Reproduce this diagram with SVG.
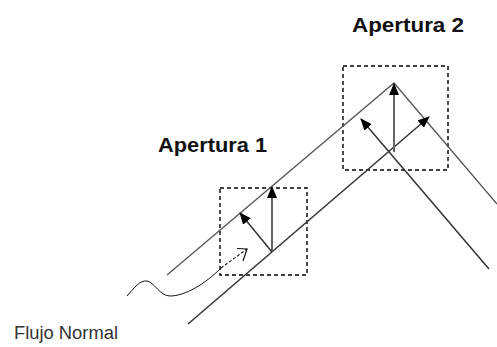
<svg xmlns="http://www.w3.org/2000/svg" width="497" height="347" viewBox="0 0 497 347">
<style>
.box{fill:none;stroke:#000;stroke-width:1.4;stroke-dasharray:4,3}
.ln{fill:none;stroke:#333;stroke-width:1.5}
.lnu{fill:none;stroke:#555;stroke-width:1.3}
.vert{fill:none;stroke:#666;stroke-width:2}
.lbl{font-family:"Liberation Sans",Arial,sans-serif;font-weight:bold;font-size:21px;fill:#111}
.flow{font-family:"Liberation Sans",Arial,sans-serif;font-size:18px;fill:#333}
</style>
<defs>
<marker id="ah" markerUnits="userSpaceOnUse" markerWidth="12" markerHeight="10" refX="11" refY="5" orient="auto">
<path d="M0,0 L12,5 L0,10 Z" fill="#000"/>
</marker>
</defs>
<rect width="497" height="347" fill="#fff"/>
<g id="apertura1">
<rect class="box" x="220" y="188" width="87" height="87"/>
<text class="lbl" x="158" y="152" textLength="109" lengthAdjust="spacingAndGlyphs">Apertura 1</text>
</g>
<g id="apertura2">
<rect class="box" x="343" y="66" width="105" height="104"/>
<text class="lbl" x="352" y="32" textLength="112" lengthAdjust="spacingAndGlyphs">Apertura 2</text>
</g>
<g id="flujo">
<text class="flow" x="14" y="339" textLength="104" lengthAdjust="spacingAndGlyphs">Flujo Normal</text>
<path d="M127,296 C134,288 140,280 147,281 C154,282 160,296 170,296 C185,296 205,284 221,268" fill="none" stroke="#111" stroke-width="1"/>
<path d="M221,268 L247,249" fill="none" stroke="#111" stroke-width="1.1" stroke-dasharray="3,2"/>
<path d="M237,248.5 L247,249 L243,261" fill="none" stroke="#111" stroke-width="1.2"/>
</g>
<g id="connectors">
<path class="lnu" d="M167,275 L394,83 L497,204"/>
<path class="ln" d="M188,324 L429,117" marker-end="url(#ah)"/>
<path class="ln" d="M489,269 L361,119" marker-end="url(#ah)"/>
<path class="vert" d="M272,252 L272,187" marker-end="url(#ah)"/>
<path class="ln" d="M272,252 L240,213" marker-end="url(#ah)"/>
<path class="vert" d="M394,152 L394,84" marker-end="url(#ah)"/>
</g>
</svg>
